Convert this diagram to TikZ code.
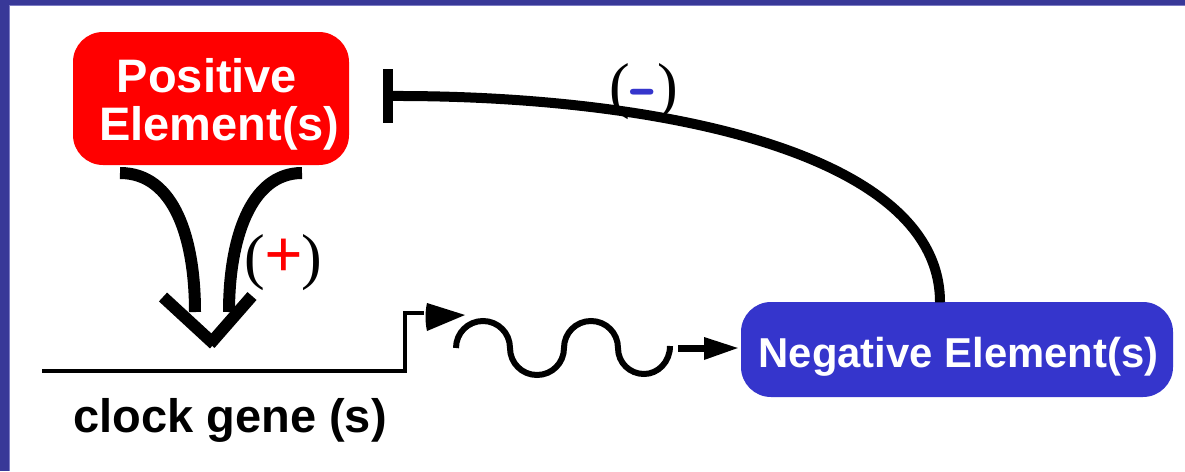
\documentclass[tikz,border=0pt]{standalone}
\usepackage{fontspec}
\setmainfont{Liberation Sans}
\newfontfamily\serifnum{Liberation Serif}
\usetikzlibrary{calc}
\definecolor{posred}{HTML}{FF0000}
\definecolor{negblue}{HTML}{3535CC}
\definecolor{frameblue}{HTML}{383898}
\definecolor{frameedge}{HTML}{7C7CC4}
\begin{document}
\begin{tikzpicture}[x=1pt,y=-1pt,
  elbox/.style={rounded corners=30pt, inner sep=0pt},
  boldtxt/.style={font=\fontsize{47}{48}\selectfont\bfseries, anchor=base, inner sep=0pt},
  signtxt/.style={font=\serifnum\fontsize{62}{62}\selectfont, anchor=base, inner sep=0pt},
  actline/.style={line width=12pt},
  geneline/.style={line width=4.5pt},
  wavyline/.style={line width=6pt},
  inhline/.style={line width=10pt}]
\useasboundingbox (0,0) rectangle (1185,471);
\fill[white] (0,0) rectangle (1185,471);
\fill[frameblue] (0,0) rectangle (1185,4.5);
\fill[frameblue] (0,0) rectangle (9,471);
\draw[frameedge, line width=1pt] (9.5,5) -- (9.5,471);
\draw[frameedge, line width=1pt] (9,5) -- (1185,5);

% boxes
\node[elbox, fill=posred, minimum width=276pt, minimum height=133pt] (pos) at (211,98.5) {};
\node[boldtxt, white] (posA) at (207,92) {Positive};
\node[boldtxt, white] (posB) at (219.5,140) {Element(s)};
\node[elbox, fill=negblue, minimum width=432pt, minimum height=95pt] (neg) at (957,349.5) {};
\node[boldtxt, white, font=\fontsize{41.8}{42}\selectfont\bfseries] (negT) at (958.5,367) {Negative Element(s)};
\node[boldtxt] (gene) at (230,432) {clock gene (s)};

% signs
\node[signtxt] (plus) at (283.5,277) {(\kern-1pt\textcolor{posred}{\bfseries\fontsize{68}{68}\selectfont +}\kern-1pt)};
\node[signtxt] (minus) at (644,106) {(\kern-1pt\textcolor{negblue}{\sffamily\bfseries\fontsize{80}{80}\selectfont\raisebox{-4.5pt}{-}}\kern-1pt)};

% activation arrows from positive elements
\coordinate (aL) at (120,173);
\coordinate (aR) at (302,173);
\coordinate (eL) at (195,312);
\coordinate (eR) at (229,312);
\draw[actline] (aL) .. controls (175,173) and (195,240) .. (eL);
\draw[actline] (aR) .. controls (250,173) and (229,240) .. (eR);
\coordinate (vL) at (163,297);
\coordinate (vB) at (212,344);
\coordinate (vR) at (252,296);
\draw[actline] (vL) -- ($(vB)+(2,0)$);
\draw[actline] ($(vB)+(-2,0)$) -- (vR);

% gene line with promoter
\coordinate (g0) at (42,371);
\coordinate (g1) at (405,371);
\coordinate (g2) at (405,313);
\coordinate (g3) at (424,313);
\draw[geneline] (g0) -- (g1) -- (g2) -- (g3);
\fill (427,303) .. controls (425,312) and (425,322) .. (427,331) -- (465,315) -- cycle;

% mRNA wave
\coordinate (w0) at (456,348);
\coordinate (w1) at (670,346);
\draw[wavyline] (w0) .. controls (456,333) and (468,321) .. (483,321)
  .. controls (498,321) and (510,333) .. (510,348)
  .. controls (510,363) and (522,375) .. (537,375)
  .. controls (552,375) and (564,363) .. (564,348)
  .. controls (564,333) and (576,321) .. (591,321)
  .. controls (606,321) and (618,333) .. (618,348)
  .. controls (618,363) and (630,374) .. (644,374)
  .. controls (658,374) and (670,362) .. (w1);

% arrow to negative elements
\coordinate (r0) at (678,348);
\draw[line width=7pt] (r0) -- (706,348);
\fill (704,337) -- ($(neg.west)+(-3,-1.5)$) -- (704,360) -- cycle;

% inhibition back to positive elements
\coordinate (tb) at (390,96);
\draw[inhline] ($(neg.north)+(-17,0.5)$) .. controls (940,150) and (650,95) .. (tb);
\draw[inhline] (388,69) -- (388,123);
\end{tikzpicture}
\end{document}
